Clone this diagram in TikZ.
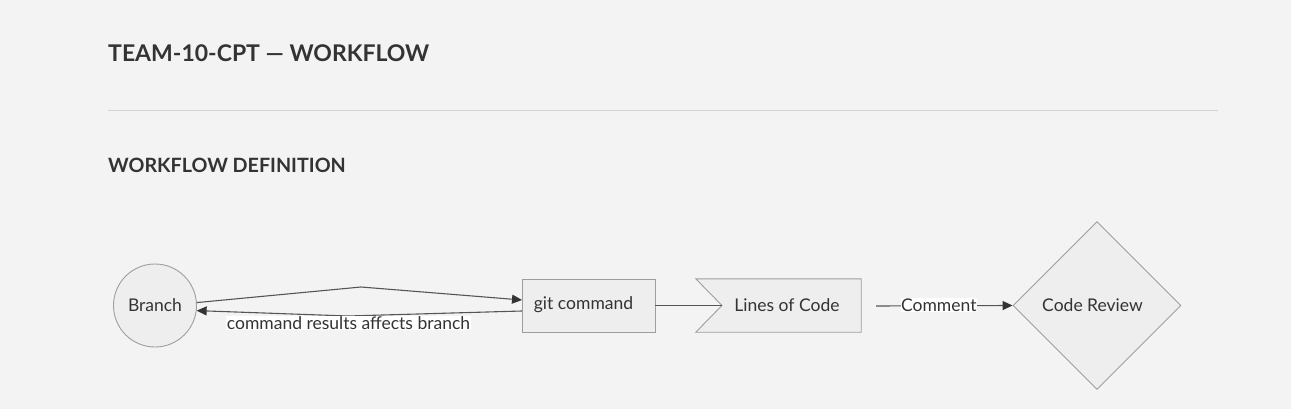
\documentclass[tikz,border=0pt]{standalone}
\usepackage{fontspec}
\setmainfont{Lato}
\usetikzlibrary{shapes.geometric,arrows.meta}
\definecolor{bg}{HTML}{F3F3F3}
\definecolor{nodefill}{HTML}{EEEEEE}
\definecolor{nodeline}{HTML}{9E9E9E}
\definecolor{txt}{HTML}{333333}
\definecolor{conncol}{HTML}{555555}
\definecolor{tipcol}{HTML}{333333}
\definecolor{rulecol}{HTML}{D2D2D2}
\tikzset{
  shapebox/.style={draw=nodeline, fill=nodefill, line width=0.9pt, inner sep=0pt},
  nodetext/.style={text=txt, font=\fontsize{17.5}{21}\selectfont, inner sep=0pt},
  conn/.style={draw=conncol, line width=1.1pt},
  arr/.style={conn, -{Triangle[length=10pt,width=9pt,color=tipcol]}},
  lbl/.style={fill=white, inner sep=0.5pt, text=txt, font=\fontsize{17.5}{21}\selectfont},
  heading/.style={anchor=base west, text=txt, inner sep=0pt},
}
\begin{document}
\begin{tikzpicture}[x=1pt,y=-1pt]
\fill[bg] (0,0) rectangle (1291,409);
\useasboundingbox (0,0) rectangle (1291,409);
\node[heading, font=\fontsize{23}{27}\bfseries] (title) at (108,62) {TEAM-10-CPT — WORKFLOW};
\draw[rulecol, line width=1pt] (108,111) -- (1218,111);
\node[heading, font=\fontsize{19.7}{23}\bfseries] (sub) at (108,172) {WORKFLOW DEFINITION};

\node[shapebox, circle, minimum size=83pt] (branch) at (155,305.5) {};
\node[nodetext] (branchtext) at (155,305) {Branch};
\node[shapebox, rectangle, minimum width=133pt, minimum height=53pt] (git) at (588.5,305.5) {};
\node[nodetext] (gittext) at (583.5,305) {git command};
\node[rectangle, minimum width=165pt, minimum height=53pt, inner sep=0pt] (loc) at (778.5,305.5) {};
\draw[nodeline, fill=nodefill, line width=0.9pt] (loc.north west) -- (722,305.5) -- (loc.south west) -- (loc.south east) -- (loc.north east) -- cycle;
\node[nodetext] (loctext) at (787,305) {Lines of Code};
\coordinate (locnotch) at (722,305.5);
\node[shapebox, diamond, minimum width=168pt, minimum height=168pt] (review) at (1097,305.5) {};
\node[nodetext] (reviewtext) at (1092.5,305) {Code Review};

\coordinate (topbend) at (361,287);
\coordinate (botbend) at (348,316);
\coordinate (gitin) at (522,300);
\coordinate (gitout) at (522,311);
\coordinate (locout) at (876,306);

\draw[arr] (branch.4) -- (topbend) -- (gitin);
\draw[arr] (gitout) -- (botbend) -- (branch.-7);
\node[lbl] (backlbl) at (348.5,323) {command results affects branch};
\draw[conn] (git.east) -- (locnotch);
\draw[arr] (locout) -- node[lbl, pos=0.46, yshift=1pt] (cmt) {Comment} (review.west);
\end{tikzpicture}
\end{document}
